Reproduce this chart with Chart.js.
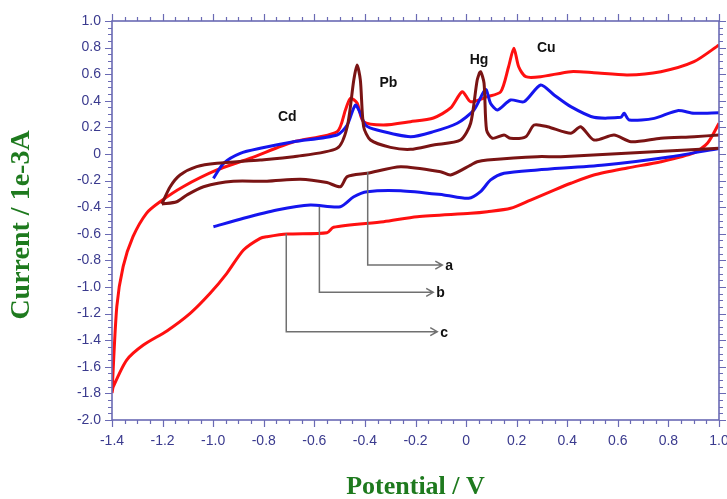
<!DOCTYPE html>
<html>
<head>
<meta charset="utf-8">
<script src="https://cdn.jsdelivr.net/npm/chart.js@4/dist/chart.umd.min.js"></script>
<style>
html,body{margin:0;padding:0;background:#fff;}
canvas{display:block;}
</style>
</head>
<body>
<canvas id="c" width="727" height="499"></canvas>
<script>
// ---- tick labels ----
const potentialTickLabels = ['-1.4','-1.2','-1.0','-0.8','-0.6','-0.4','-0.2','0','0.2','0.4','0.6','0.8','1.0'];
const currentTickLabels = ['1.0','0.8','0.6','0.4','0.2','0','-0.2','-0.4','-0.6','-0.8','-1.0','-1.2','-1.4','-1.6','-1.8','-2.0'];

// ---- curve c (red): forward (upper) and reverse (lower) sweeps ----
const redForwardV = [-1.40,-1.381,-1.356,-1.317,-1.263,-1.210,-1.119,-0.985,-0.853,-0.682,-0.510,-0.477,-0.457,-0.431,-0.406,-0.327,-0.220,-0.129,-0.061,-0.015,0.018,0.084,0.137,0.168,0.189,0.208,0.236,0.295,0.414,0.505,0.638,0.770,0.901,1.000];
const redForwardI = [-1.797,-1.148,-0.847,-0.622,-0.444,-0.359,-0.246,-0.120,-0.032,0.092,0.168,0.331,0.419,0.383,0.243,0.218,0.243,0.271,0.346,0.468,0.393,0.431,0.468,0.656,0.795,0.656,0.581,0.581,0.619,0.611,0.594,0.619,0.694,0.820];
const redReverseV = [1.000,0.955,0.901,0.770,0.638,0.505,0.414,0.348,0.255,0.176,0.084,0.018,-0.193,-0.326,-0.524,-0.550,-0.708,-0.787,-0.814,-0.880,-0.946,-1.012,-1.091,-1.183,-1.276,-1.342,-1.395,-1.400];
const redReverseI = [0.231,0.083,0.008,-0.058,-0.105,-0.158,-0.220,-0.271,-0.346,-0.408,-0.434,-0.446,-0.471,-0.509,-0.551,-0.592,-0.602,-0.622,-0.634,-0.722,-0.897,-1.047,-1.198,-1.330,-1.436,-1.549,-1.750,-1.797];

// ---- curve b (blue) ----
const blueForwardV = [-0.999,-0.959,-0.893,-0.814,-0.682,-0.510,-0.470,-0.438,-0.418,-0.398,-0.352,-0.220,-0.129,-0.035,0.031,0.077,0.097,0.124,0.176,0.229,0.295,0.348,0.414,0.505,0.612,0.625,0.645,0.744,0.836,0.901,1.000];
const blueForwardI = [-0.183,-0.070,0.005,0.043,0.092,0.143,0.218,0.368,0.306,0.218,0.180,0.130,0.168,0.231,0.331,0.485,0.380,0.331,0.406,0.393,0.519,0.444,0.356,0.276,0.276,0.306,0.256,0.268,0.326,0.306,0.311];
const blueReverseV = [1.000,0.810,0.546,0.282,0.150,0.097,0.057,0.010,-0.088,-0.259,-0.391,-0.444,-0.497,-0.616,-0.748,-0.880,-0.999];
const blueReverseI = [0.041,-0.020,-0.083,-0.120,-0.145,-0.195,-0.283,-0.333,-0.308,-0.276,-0.283,-0.321,-0.396,-0.383,-0.421,-0.483,-0.547];

// ---- curve a (brown) ----
const brownForwardV = [-1.203,-1.170,-1.131,-1.065,-0.985,-0.814,-0.682,-0.510,-0.470,-0.444,-0.431,-0.418,-0.405,-0.378,-0.299,-0.220,-0.129,-0.022,0.018,0.044,0.057,0.071,0.081,0.104,0.150,0.176,0.236,0.269,0.322,0.414,0.453,0.506,0.585,0.652,0.770,0.902,1.000];
const brownForwardI = [-0.376,-0.246,-0.158,-0.095,-0.070,-0.045,-0.020,0.043,0.205,0.556,0.669,0.556,0.205,0.105,0.050,0.035,0.068,0.105,0.231,0.556,0.619,0.532,0.180,0.118,0.143,0.118,0.130,0.218,0.205,0.156,0.205,0.105,0.143,0.092,0.118,0.130,0.143];
const brownReverseV = [1.000,0.374,0.282,0.084,0.044,0.018,-0.061,-0.101,-0.259,-0.391,-0.470,-0.497,-0.550,-0.655,-0.787,-0.920,-1.038,-1.104,-1.144,-1.203];
const brownReverseI = [0.043,-0.020,-0.020,-0.045,-0.058,-0.083,-0.158,-0.133,-0.095,-0.145,-0.170,-0.246,-0.215,-0.190,-0.205,-0.205,-0.246,-0.308,-0.359,-0.376];

// ---- text annotations ----
const peakNames = ['Cd','Pb','Hg','Cu'];
const peakNameV = [-0.707,-0.307,0.051,0.317];
const peakNameI = [0.278,0.534,0.707,0.797];
const calloutNames = ['a','b','c'];
const calloutV = [-0.389,-0.580,-0.711];
const calloutFromI = [-0.135,-0.396,-0.598];
const calloutToI = [-0.835,-1.040,-1.336];
const calloutEndV = [-0.094,-0.130,-0.114];

function loop(fv, fi, rv, ri) {
  const pts = fv.map((v, k) => ({x: v, y: fi[k]}));
  pts.push({x: 1.0, y: null});
  rv.forEach((v, k) => pts.push({x: v, y: ri[k]}));
  return pts;
}

const AXIS = '#6a6ab4';
const TICKTXT = '#3a3a8e';
const GREEN = '#1e7a1e';

const framePlugin = {
  id: 'frame',
  afterDraw(chart) {
    const ctx = chart.ctx, a = chart.chartArea;
    const xs = chart.scales.x, ys = chart.scales.y;
    ctx.save();
    // peak labels
    ctx.fillStyle = '#111';
    ctx.font = 'bold 14px "Liberation Sans", Arial, sans-serif';
    ctx.textAlign = 'center'; ctx.textBaseline = 'middle';
    peakNames.forEach((n, k) => ctx.fillText(n, xs.getPixelForValue(peakNameV[k]), ys.getPixelForValue(peakNameI[k])));
    // callouts
    ctx.strokeStyle = '#707070'; ctx.lineWidth = 1.5;
    calloutNames.forEach((n, k) => {
      const x = xs.getPixelForValue(calloutV[k]);
      const y0 = ys.getPixelForValue(calloutFromI[k]);
      const y1 = ys.getPixelForValue(calloutToI[k]);
      const xe = xs.getPixelForValue(calloutEndV[k]);
      ctx.beginPath();
      ctx.moveTo(x, y0); ctx.lineTo(x, y1); ctx.lineTo(xe, y1);
      ctx.moveTo(xe - 7, y1 - 4); ctx.lineTo(xe, y1); ctx.lineTo(xe - 7, y1 + 4);
      ctx.stroke();
      ctx.fillStyle = '#111';
      ctx.textAlign = 'left';
      ctx.fillText(n, xe + 3, y1 + 1);
    });
    // frame
    ctx.strokeStyle = AXIS; ctx.lineWidth = 1.6;
    ctx.strokeRect(a.left, a.top, a.right - a.left, a.bottom - a.top);
    ctx.lineWidth = 1.2;
    ctx.beginPath();
    for (let k = 0; k <= 48; k++) {
      const v = xs.min + k * 0.05;
      const px = Math.round(xs.getPixelForValue(v)) + 0.5;
      const L = (k % 4 === 0) ? 7 : 4;
      ctx.moveTo(px, a.bottom); ctx.lineTo(px, a.bottom + L);
      ctx.moveTo(px, a.top); ctx.lineTo(px, a.top - L);
    }
    for (let k = 0; k <= 60; k++) {
      const v = ys.min + k * 0.05;
      const py = Math.round(ys.getPixelForValue(v)) + 0.5;
      const L = (k % 4 === 0) ? 7 : 4;
      ctx.moveTo(a.left, py); ctx.lineTo(a.left - L, py);
      ctx.moveTo(a.right, py); ctx.lineTo(a.right + L, py);
    }
    ctx.stroke();
    // axis titles
    ctx.fillStyle = GREEN;
    ctx.textAlign = 'center'; ctx.textBaseline = 'middle';
    ctx.font = 'bold 26px "Liberation Serif", "Times New Roman", serif';
    ctx.fillText('Potential / V', (a.left + a.right) / 2, 487);
    ctx.font = 'bold 28px "Liberation Serif", "Times New Roman", serif';
    ctx.translate(22, 225);
    ctx.rotate(-Math.PI / 2);
    ctx.fillText('Current / 1e-3A', 0, 0);
    ctx.restore();
  }
};

new Chart(document.getElementById('c'), {
  type: 'scatter',
  data: {
    datasets: [
      {label: 'a', data: loop(brownForwardV, brownForwardI, brownReverseV, brownReverseI), borderColor: '#7a1414'},
      {label: 'b', data: loop(blueForwardV, blueForwardI, blueReverseV, blueReverseI), borderColor: '#1515ee'},
      {label: 'c', data: loop(redForwardV, redForwardI, redReverseV, redReverseI), borderColor: '#ff1010'}
    ].map(d => Object.assign(d, {showLine: true, pointRadius: 0, borderWidth: 3, tension: 0.25, spanGaps: false, fill: false}))
  },
  options: {
    responsive: false,
    devicePixelRatio: 1,
    animation: false,
    layout: {padding: {top: 21, right: 8, left: 0, bottom: 0}},
    plugins: {legend: {display: false}, tooltip: {enabled: false}},
    scales: {
      x: {
        type: 'linear', min: -1.4, max: 1.0,
        afterBuildTicks: s => { s.ticks = potentialTickLabels.map(t => ({value: parseFloat(t)})); },
        afterFit: s => { s.height = 79; s.paddingLeft = 0; s.paddingRight = 0; },
        grid: {display: false, drawTicks: false},
        border: {display: false},
        ticks: {
          padding: 13, color: TICKTXT, maxRotation: 0, autoSkip: false,
          font: {family: '"Liberation Sans", Arial, sans-serif', size: 14},
          callback: (v) => potentialTickLabels.find(t => Math.abs(parseFloat(t) - v) < 1e-6)
        }
      },
      y: {
        type: 'linear', min: -2.0, max: 1.0,
        afterBuildTicks: s => { s.ticks = currentTickLabels.map(t => ({value: parseFloat(t)})); },
        afterFit: s => { s.width = 112; s.paddingTop = 0; s.paddingBottom = 0; },
        grid: {display: false, drawTicks: false},
        border: {display: false},
        ticks: {
          padding: 11, color: TICKTXT, autoSkip: false,
          font: {family: '"Liberation Sans", Arial, sans-serif', size: 14},
          callback: (v) => currentTickLabels.find(t => Math.abs(parseFloat(t) - v) < 1e-6)
        }
      }
    }
  },
  plugins: [framePlugin]
});
</script>
</body>
</html>
